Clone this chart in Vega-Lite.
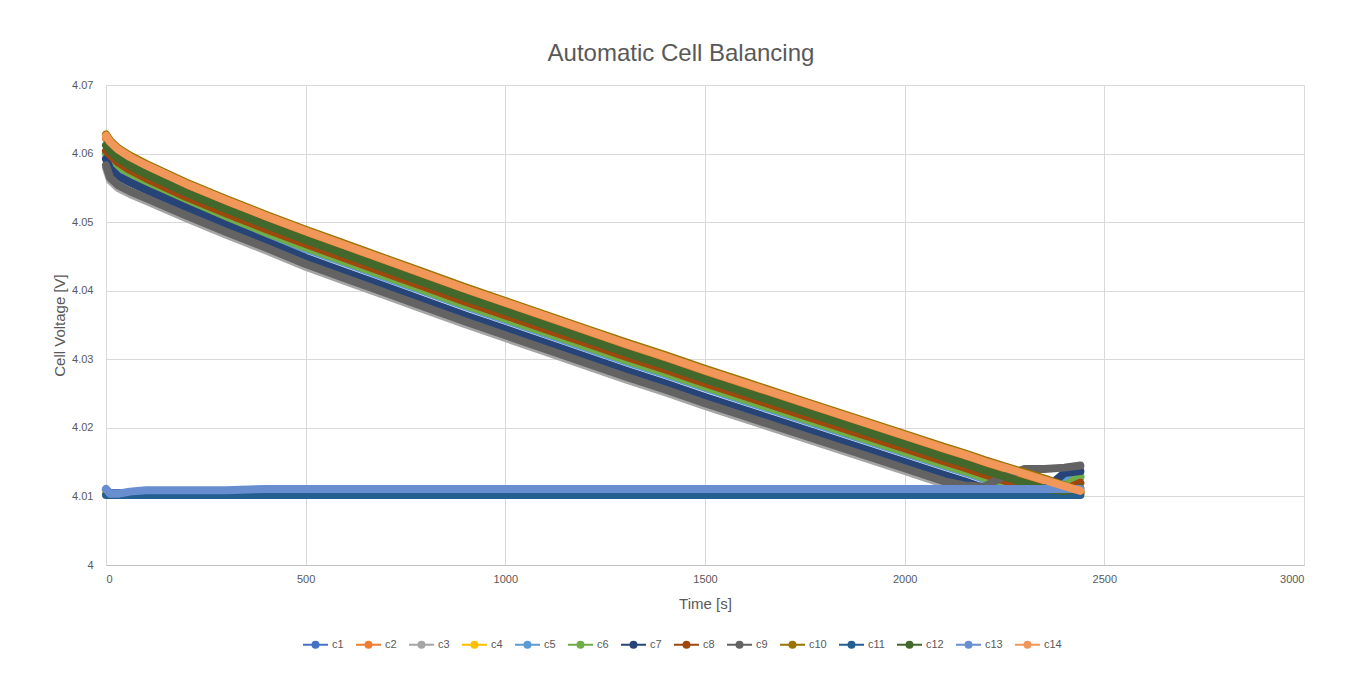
{
  "$schema": "https://vega.github.io/schema/vega-lite/v6.json",
  "width": 1198,
  "height": 480,
  "padding": {"left": 52, "top": 42, "right": 45, "bottom": 20},
  "background": "white",
  "config": {"font": "Liberation Sans", "view": {"stroke": null}},
  "title": {"text": "Automatic Cell Balancing", "fontSize": 24, "fontWeight": "normal", "color": "#595959", "offset": 13, "dx": -24},
  "data": {"values": [
    {"t": 0, "c1": 4.0110, "c2": 4.0622, "c3": 4.0579, "c4": 4.0103, "c5": 4.0600, "c6": 4.0600, "c7": 4.0592, "c8": 4.0604, "c9": 4.0583, "c10": 4.0628, "c11": 4.0102, "c12": 4.0612, "c13": 4.0111, "c14": 4.0626},
    {"t": 10, "c1": 4.0105, "c2": 4.0613, "c3": 4.0561, "c4": 4.0103, "c5": 4.0591, "c6": 4.0593, "c7": 4.0578, "c8": 4.0598, "c9": 4.0565, "c10": 4.0619, "c11": 4.0102, "c12": 4.0604, "c13": 4.0104, "c14": 4.0617},
    {"t": 30, "c1": 4.0105, "c2": 4.0602, "c3": 4.0550, "c4": 4.0103, "c5": 4.0580, "c6": 4.0582, "c7": 4.0567, "c8": 4.0587, "c9": 4.0554, "c10": 4.0608, "c11": 4.0102, "c12": 4.0593, "c13": 4.0104, "c14": 4.0606},
    {"t": 60, "c1": 4.0105, "c2": 4.0591, "c3": 4.0541, "c4": 4.0103, "c5": 4.0569, "c6": 4.0571, "c7": 4.0558, "c8": 4.0576, "c9": 4.0545, "c10": 4.0597, "c11": 4.0102, "c12": 4.0582, "c13": 4.0107, "c14": 4.0595},
    {"t": 100, "c1": 4.0105, "c2": 4.0579, "c3": 4.0531, "c4": 4.0103, "c5": 4.0557, "c6": 4.0559, "c7": 4.0547, "c8": 4.0564, "c9": 4.0535, "c10": 4.0585, "c11": 4.0102, "c12": 4.0570, "c13": 4.0109, "c14": 4.0583},
    {"t": 200, "c1": 4.0105, "c2": 4.0552, "c3": 4.0506, "c4": 4.0103, "c5": 4.0530, "c6": 4.0532, "c7": 4.0521, "c8": 4.0537, "c9": 4.0510, "c10": 4.0558, "c11": 4.0102, "c12": 4.0543, "c13": 4.0109, "c14": 4.0556},
    {"t": 300, "c1": 4.0105, "c2": 4.0528, "c3": 4.0482, "c4": 4.0103, "c5": 4.0506, "c6": 4.0508, "c7": 4.0496, "c8": 4.0513, "c9": 4.0486, "c10": 4.0534, "c11": 4.0102, "c12": 4.0519, "c13": 4.0109, "c14": 4.0532},
    {"t": 400, "c1": 4.0105, "c2": 4.0505, "c3": 4.0459, "c4": 4.0103, "c5": 4.0483, "c6": 4.0485, "c7": 4.0472, "c8": 4.0490, "c9": 4.0463, "c10": 4.0511, "c11": 4.0102, "c12": 4.0496, "c13": 4.0111, "c14": 4.0509},
    {"t": 500, "c1": 4.0105, "c2": 4.0483, "c3": 4.0435, "c4": 4.0103, "c5": 4.0461, "c6": 4.0463, "c7": 4.0448, "c8": 4.0468, "c9": 4.0439, "c10": 4.0489, "c11": 4.0102, "c12": 4.0474, "c13": 4.0111, "c14": 4.0487},
    {"t": 600, "c1": 4.0105, "c2": 4.0462, "c3": 4.0414, "c4": 4.0103, "c5": 4.0440, "c6": 4.0442, "c7": 4.0427, "c8": 4.0447, "c9": 4.0418, "c10": 4.0468, "c11": 4.0102, "c12": 4.0453, "c13": 4.0111, "c14": 4.0466},
    {"t": 700, "c1": 4.0105, "c2": 4.0441, "c3": 4.0393, "c4": 4.0103, "c5": 4.0419, "c6": 4.0421, "c7": 4.0406, "c8": 4.0426, "c9": 4.0397, "c10": 4.0447, "c11": 4.0102, "c12": 4.0432, "c13": 4.0111, "c14": 4.0445},
    {"t": 800, "c1": 4.0105, "c2": 4.0420, "c3": 4.0372, "c4": 4.0103, "c5": 4.0398, "c6": 4.0400, "c7": 4.0385, "c8": 4.0405, "c9": 4.0376, "c10": 4.0426, "c11": 4.0102, "c12": 4.0411, "c13": 4.0111, "c14": 4.0424},
    {"t": 900, "c1": 4.0105, "c2": 4.0399, "c3": 4.0351, "c4": 4.0103, "c5": 4.0377, "c6": 4.0379, "c7": 4.0364, "c8": 4.0384, "c9": 4.0355, "c10": 4.0405, "c11": 4.0102, "c12": 4.0390, "c13": 4.0111, "c14": 4.0403},
    {"t": 1000, "c1": 4.0105, "c2": 4.0379, "c3": 4.0331, "c4": 4.0103, "c5": 4.0357, "c6": 4.0359, "c7": 4.0344, "c8": 4.0364, "c9": 4.0335, "c10": 4.0385, "c11": 4.0102, "c12": 4.0370, "c13": 4.0111, "c14": 4.0383},
    {"t": 1100, "c1": 4.0105, "c2": 4.0359, "c3": 4.0311, "c4": 4.0103, "c5": 4.0337, "c6": 4.0339, "c7": 4.0324, "c8": 4.0344, "c9": 4.0315, "c10": 4.0365, "c11": 4.0102, "c12": 4.0350, "c13": 4.0111, "c14": 4.0363},
    {"t": 1200, "c1": 4.0105, "c2": 4.0339, "c3": 4.0291, "c4": 4.0103, "c5": 4.0317, "c6": 4.0319, "c7": 4.0304, "c8": 4.0324, "c9": 4.0295, "c10": 4.0345, "c11": 4.0102, "c12": 4.0330, "c13": 4.0111, "c14": 4.0343},
    {"t": 1300, "c1": 4.0105, "c2": 4.0319, "c3": 4.0271, "c4": 4.0103, "c5": 4.0297, "c6": 4.0299, "c7": 4.0284, "c8": 4.0304, "c9": 4.0275, "c10": 4.0325, "c11": 4.0102, "c12": 4.0310, "c13": 4.0111, "c14": 4.0323},
    {"t": 1400, "c1": 4.0105, "c2": 4.0300, "c3": 4.0252, "c4": 4.0103, "c5": 4.0278, "c6": 4.0280, "c7": 4.0265, "c8": 4.0285, "c9": 4.0256, "c10": 4.0306, "c11": 4.0102, "c12": 4.0291, "c13": 4.0111, "c14": 4.0304},
    {"t": 1500, "c1": 4.0105, "c2": 4.0280, "c3": 4.0232, "c4": 4.0103, "c5": 4.0258, "c6": 4.0260, "c7": 4.0245, "c8": 4.0265, "c9": 4.0236, "c10": 4.0286, "c11": 4.0102, "c12": 4.0271, "c13": 4.0111, "c14": 4.0284},
    {"t": 1600, "c1": 4.0105, "c2": 4.0261, "c3": 4.0213, "c4": 4.0103, "c5": 4.0239, "c6": 4.0241, "c7": 4.0226, "c8": 4.0246, "c9": 4.0217, "c10": 4.0267, "c11": 4.0102, "c12": 4.0252, "c13": 4.0111, "c14": 4.0265},
    {"t": 1700, "c1": 4.0105, "c2": 4.0242, "c3": 4.0194, "c4": 4.0103, "c5": 4.0220, "c6": 4.0222, "c7": 4.0207, "c8": 4.0227, "c9": 4.0198, "c10": 4.0248, "c11": 4.0102, "c12": 4.0233, "c13": 4.0111, "c14": 4.0246},
    {"t": 1800, "c1": 4.0105, "c2": 4.0223, "c3": 4.0175, "c4": 4.0103, "c5": 4.0201, "c6": 4.0203, "c7": 4.0188, "c8": 4.0208, "c9": 4.0179, "c10": 4.0229, "c11": 4.0102, "c12": 4.0214, "c13": 4.0111, "c14": 4.0227},
    {"t": 1900, "c1": 4.0105, "c2": 4.0204, "c3": 4.0156, "c4": 4.0103, "c5": 4.0182, "c6": 4.0184, "c7": 4.0169, "c8": 4.0189, "c9": 4.0160, "c10": 4.0210, "c11": 4.0102, "c12": 4.0195, "c13": 4.0111, "c14": 4.0208},
    {"t": 2000, "c1": 4.0105, "c2": 4.0185, "c3": 4.0137, "c4": 4.0103, "c5": 4.0163, "c6": 4.0165, "c7": 4.0150, "c8": 4.0170, "c9": 4.0141, "c10": 4.0191, "c11": 4.0102, "c12": 4.0176, "c13": 4.0111, "c14": 4.0189},
    {"t": 2100, "c1": 4.0105, "c2": 4.0166, "c3": 4.0118, "c4": 4.0103, "c5": 4.0144, "c6": 4.0146, "c7": 4.0131, "c8": 4.0151, "c9": 4.0122, "c10": 4.0172, "c11": 4.0102, "c12": 4.0157, "c13": 4.0111, "c14": 4.0170},
    {"t": 2150, "c1": 4.0105, "c2": 4.0157, "c3": 4.0110, "c4": 4.0103, "c5": 4.0135, "c6": 4.0137, "c7": 4.0122, "c8": 4.0142, "c9": 4.0116, "c10": 4.0163, "c11": 4.0102, "c12": 4.0148, "c13": 4.0111, "c14": 4.0161},
    {"t": 2200, "c1": 4.0105, "c2": 4.0147, "c3": 4.0108, "c4": 4.0103, "c5": 4.0125, "c6": 4.0127, "c7": 4.0112, "c8": 4.0132, "c9": 4.0114, "c10": 4.0153, "c11": 4.0102, "c12": 4.0138, "c13": 4.0111, "c14": 4.0151},
    {"t": 2250, "c1": 4.0105, "c2": 4.0138, "c3": 4.0108, "c4": 4.0103, "c5": 4.0116, "c6": 4.0118, "c7": 4.0108, "c8": 4.0123, "c9": 4.0130, "c10": 4.0144, "c11": 4.0102, "c12": 4.0129, "c13": 4.0111, "c14": 4.0142},
    {"t": 2300, "c1": 4.0105, "c2": 4.0129, "c3": 4.0108, "c4": 4.0103, "c5": 4.0108, "c6": 4.0109, "c7": 4.0108, "c8": 4.0114, "c9": 4.0140, "c10": 4.0135, "c11": 4.0102, "c12": 4.0120, "c13": 4.0111, "c14": 4.0133},
    {"t": 2350, "c1": 4.0105, "c2": 4.0120, "c3": 4.0108, "c4": 4.0103, "c5": 4.0112, "c6": 4.0108, "c7": 4.0110, "c8": 4.0108, "c9": 4.0140, "c10": 4.0126, "c11": 4.0102, "c12": 4.0111, "c13": 4.0111, "c14": 4.0124},
    {"t": 2400, "c1": 4.0105, "c2": 4.0111, "c3": 4.0108, "c4": 4.0103, "c5": 4.0126, "c6": 4.0115, "c7": 4.0134, "c8": 4.0110, "c9": 4.0142, "c10": 4.0116, "c11": 4.0102, "c12": 4.0108, "c13": 4.0111, "c14": 4.0115},
    {"t": 2440, "c1": 4.0105, "c2": 4.0106, "c3": 4.0108, "c4": 4.0103, "c5": 4.0128, "c6": 4.0130, "c7": 4.0137, "c8": 4.0120, "c9": 4.0145, "c10": 4.0107, "c11": 4.0102, "c12": 4.0112, "c13": 4.0111, "c14": 4.0108}
  ]},
  "transform": [
    {"fold": ["c1", "c2", "c3", "c4", "c5", "c6", "c7", "c8", "c9", "c10", "c11", "c12", "c13", "c14"], "as": ["series", "v"]}
  ],
  "mark": {"type": "line", "strokeWidth": 8, "strokeJoin": "round", "strokeCap": "round"},
  "encoding": {
    "x": {
      "field": "t", "type": "quantitative",
      "scale": {"domain": [0, 3000], "nice": false},
      "axis": {
        "values": [0, 500, 1000, 1500, 2000, 2500, 3000],
        "format": "d",
        "title": "Time [s]",
        "domain": true, "domainColor": "#BFBFBF", "domainWidth": 1,
        "ticks": false,
        "grid": true, "gridColor": "#D9D9D9",
        "labelFontSize": 11, "labelColor": "#595959", "labelPadding": 8,
        "titleFontSize": 15, "titleFontWeight": "normal", "titleColor": "#595959", "titlePadding": 12
      }
    },
    "y": {
      "field": "v", "type": "quantitative",
      "scale": {"domain": [4, 4.07], "nice": false, "zero": false},
      "axis": {
        "values": [4, 4.01, 4.02, 4.03, 4.04, 4.05, 4.06, 4.07],
        "format": "~g",
        "title": "Cell Voltage [V]",
        "domain": false, "ticks": false,
        "grid": true, "gridColor": "#D9D9D9",
        "labelFontSize": 11, "labelColor": "#595959", "labelPadding": 13,
        "titleFontSize": 15, "titleFontWeight": "normal", "titleColor": "#595959", "titlePadding": 4
      }
    },
    "color": {
      "field": "series", "type": "nominal",
      "scale": {
        "domain": ["c1", "c2", "c3", "c4", "c5", "c6", "c7", "c8", "c9", "c10", "c11", "c12", "c13", "c14"],
        "range": ["#4472C4", "#ED7D31", "#A5A5A5", "#FFC000", "#5B9BD5", "#70AD47", "#264478", "#9E480E", "#636363", "#997300", "#255E91", "#43682B", "#698ED0", "#F1975A"]
      },
      "legend": {
        "orient": "none", "legendX": 196, "legendY": 546,
        "direction": "horizontal", "title": null,
        "symbolType": "M-1,0H-0.24M0.24,0H1M-0.24,0A0.24,0.24,0,1,0,0.24,0A0.24,0.24,0,1,0,-0.24,0Z",
        "symbolSize": 625, "symbolStrokeWidth": 2,
        "labelFontSize": 11, "labelColor": "#595959", "labelOffset": 3,
        "columnPadding": 8,
        "encode": {"symbols": {"update": {"fill": {"scale": "color", "field": "value"}}}}
      }
    }
  }
}
